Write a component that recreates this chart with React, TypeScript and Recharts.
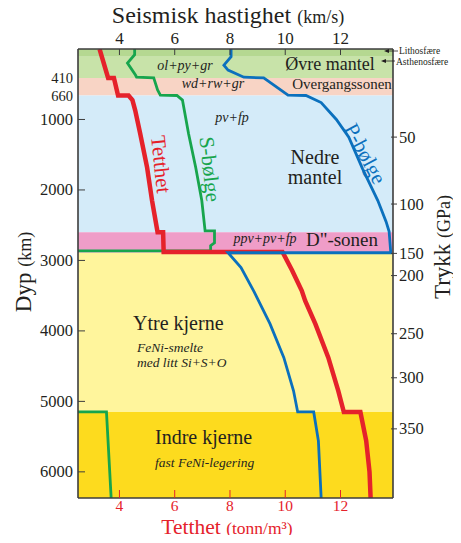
import { ComposedChart, Line, XAxis, YAxis, ReferenceArea } from "recharts";

const W = 461;
const H = 543;
const FONT = '"Liberation Serif", "DejaVu Serif", serif';
const INK = "#231f20";
const AXIS = "#3d3d3d";
const RED = "#e5222b";
const GREEN = "#17a54d";
const BLUE = "#0b70bd";

// dybde (km) og tetthet (tonn/m3)
const tetthetDyp = [0, 410, 410, 660, 660, 725, 870, 1200, 1680, 2150, 2600, 2600, 2880, 2880, 3144, 3430, 3570, 3900, 4380, 4850, 5150, 5150, 5560, 6000, 6371];
const tetthet = [3.28, 3.59, 3.8, 3.95, 4.33, 4.47, 4.57, 4.75, 5.0, 5.18, 5.38, 5.58, 5.6, 9.9, 10.25, 10.6, 10.72, 11.09, 11.56, 11.92, 12.12, 12.72, 12.93, 13.05, 13.09];

// S-bølge (km/s)
const sDyp = [0, 80, 200, 370, 400, 410, 580, 655, 660, 725, 1200, 1680, 2150, 2580, 2580, 2750, 2790, 2865, 2865, 5150, 5150, 6371];
const sFart = [4.55, 4.55, 4.29, 4.58, 4.62, 5.24, 5.38, 5.48, 6.08, 6.28, 6.5, 6.76, 6.98, 7.1, 7.44, 7.44, 7.3, 7.3, 0, 0, 3.53, 3.7];

// P-bølge (km/s)
const pDyp = [0, 110, 230, 300, 400, 410, 655, 660, 760, 1000, 1250, 1700, 2150, 2450, 2590, 2891, 2891, 3100, 3450, 3900, 4380, 4850, 5150, 5150, 5560, 6371];
const pFart = [8.04, 8.04, 7.78, 7.93, 8.5, 9.22, 10.1, 10.75, 11.3, 11.85, 12.3, 12.8, 13.35, 13.65, 13.76, 13.82, 7.93, 8.4, 8.88, 9.45, 9.95, 10.3, 10.45, 11.03, 11.2, 11.3];

// soner
const soneFra = [0, 110, 410, 660, 2600, 2891, 5150];
const soneTil = [110, 410, 660, 2600, 2891, 5150, 6371];
const soneFarge = ["#b5d891", "#c8e3a9", "#f8d4c5", "#d4ebf9", "#ef9dc8", "#fff59c", "#fddb1e"];

const fartTicks = [4, 6, 8, 10, 12];
const dypTicks = [410, 660, 1000, 2000, 3000, 4000, 5000, 6000];
const trykkDyp = [1250, 2200, 2900, 3215, 4040, 4665, 5390];
const trykkTekst = ["50", "100", "150", "200", "250", "300", "350"];

const rows = (d: number[], v: number[]) => d.map((dd, i) => ({ d: dd, v: v[i] }));
const tetthetData = rows(tetthetDyp, tetthet);
const sData = rows(sDyp, sFart);
const pData = rows(pDyp, pFart);

const TopTick = ({ x, y, payload }: any) => (
  <g>
    <text x={x} y={y} textAnchor="middle" fontSize={17} fill={INK} fontFamily={FONT}>
      {payload.value}
    </text>
    <line x1={x} x2={x} y1={y + 5} y2={y + 11} stroke={AXIS} strokeWidth={1} />
  </g>
);

const BottomTick = ({ x, y, payload }: any) => (
  <g>
    <text x={x} y={y + 13} textAnchor="middle" fontSize={15.5} fill={RED} fontFamily={FONT}>
      {payload.value}
    </text>
    <line x1={x} x2={x} y1={y} y2={y - 8} stroke={RED} strokeWidth={1} />
  </g>
);

const LeftTick = ({ x, y, payload }: any) => {
  const v = payload.value;
  const small = v < 1000;
  return (
    <g>
      <text x={x} y={y + 5.5} textAnchor="end" fontSize={small ? 14.5 : 16.5} fill={INK} fontFamily={FONT}>
        {v}
      </text>
      {!small && <line x1={x + 5} x2={x + 12} y1={y} y2={y} stroke={AXIS} strokeWidth={1} />}
    </g>
  );
};

const RightTick = ({ x, y, payload, index }: any) => (
  <g>
    <text x={x} y={y + 5.5} textAnchor="start" fontSize={16.5} fill={INK} fontFamily={FONT}>
      {trykkTekst[index] ?? payload.value}
    </text>
    <line x1={x - 8} x2={x - 2} y1={y} y2={y} stroke={AXIS} strokeWidth={1} />
  </g>
);

const T = ({ x, y, size = 14, italic = false, color = INK, rot = 0, anchor = "middle", children }: any) => (
  <text
    x={x}
    y={y}
    fontSize={size}
    fontStyle={italic ? "italic" : "normal"}
    fill={color}
    fontFamily={FONT}
    textAnchor={anchor}
    transform={rot ? `rotate(${rot} ${x} ${y})` : undefined}
  >
    {children}
  </text>
);

export default function App() {
  return (
    <div style={{ position: "relative", width: W, height: H, margin: -8, background: "#fff" }}>
      <ComposedChart
        width={W}
        height={H}
        layout="vertical"
        margin={{ top: 0, right: 0, bottom: 0, left: 0 }}
      >
        {soneFra.map((f, i) => (
          <ReferenceArea
            key={i}
            xAxisId="fart"
            yAxisId="dyp"
            y1={f}
            y2={soneTil[i]}
            fill={soneFarge[i]}
            fillOpacity={1}
            stroke="none"
            ifOverflow="visible"
          />
        ))}
        <Line
          data={sData}
          dataKey="v"
          xAxisId="fart"
          yAxisId="dyp"
          stroke={GREEN}
          strokeWidth={2.8}
          dot={false}
          activeDot={false}
          strokeLinejoin="miter"
          isAnimationActive={false}
        />
        <Line
          data={tetthetData}
          dataKey="v"
          xAxisId="rho"
          yAxisId="dyp"
          stroke={RED}
          strokeWidth={4.5}
          dot={false}
          activeDot={false}
          strokeLinejoin="miter"
          isAnimationActive={false}
        />
        <Line
          data={pData}
          dataKey="v"
          xAxisId="fart"
          yAxisId="dyp"
          stroke={BLUE}
          strokeWidth={2.8}
          dot={false}
          activeDot={false}
          strokeLinejoin="miter"
          isAnimationActive={false}
        />
        <XAxis
          xAxisId="fart"
          orientation="top"
          type="number"
          domain={[2.5, 13.9]}
          allowDataOverflow
          ticks={fartTicks}
          interval={0}
          height={49}
          tickSize={0}
          tickMargin={5}
          tick={TopTick}
          axisLine={{ stroke: AXIS, strokeWidth: 1.6 }}
        />
        <XAxis
          xAxisId="rho"
          orientation="bottom"
          type="number"
          domain={[2.5, 13.9]}
          allowDataOverflow
          ticks={fartTicks}
          interval={0}
          height={45}
          tickSize={0}
          tickMargin={0}
          tick={BottomTick}
          axisLine={{ stroke: AXIS, strokeWidth: 1.6 }}
        />
        <YAxis
          yAxisId="dyp"
          orientation="left"
          type="number"
          dataKey="d"
          domain={[0, 6371]}
          allowDataOverflow
          ticks={dypTicks}
          interval={0}
          width={78}
          tickSize={0}
          tickMargin={5}
          tick={LeftTick}
          axisLine={{ stroke: AXIS, strokeWidth: 1.6 }}
        />
        <YAxis
          yAxisId="trykk"
          orientation="right"
          type="number"
          dataKey="d"
          domain={[0, 6371]}
          allowDataOverflow
          ticks={trykkDyp}
          interval={0}
          width={68}
          tickSize={0}
          tickMargin={6}
          tick={RightTick}
          axisLine={{ stroke: AXIS, strokeWidth: 1.6 }}
        />
      </ComposedChart>

      <svg
        width={W}
        height={H}
        style={{ position: "absolute", left: 0, top: 0, pointerEvents: "none" }}
      >
        {/* aksetitler */}
        <text x={228} y={23} textAnchor="middle" fill={INK} fontFamily={FONT}>
          <tspan fontSize={24}>Seismisk hastighet </tspan>
          <tspan fontSize={18}>(km/s)</tspan>
        </text>
        <text x={227} y={534} textAnchor="middle" fill={RED} fontFamily={FONT}>
          <tspan fontSize={21.5}>Tetthet </tspan>
          <tspan fontSize={17.5}>(tonn/m³)</tspan>
        </text>
        <text x={31} y={272} textAnchor="middle" fill={INK} fontFamily={FONT} transform="rotate(-90 31 272)">
          <tspan fontSize={23}>Dyp </tspan>
          <tspan fontSize={18}>(km)</tspan>
        </text>
        <text x={450} y={247} textAnchor="middle" fill={INK} fontFamily={FONT} transform="rotate(-90 450 247)">
          <tspan fontSize={23}>Trykk </tspan>
          <tspan fontSize={18}>(GPa)</tspan>
        </text>

        {/* litosfære / astenosfære */}
        <line x1={386} x2={398} y1={51} y2={51} stroke={INK} strokeWidth={0.8} />
        <polygon points="384,51 389,49 389,53" fill={INK} />
        <T x={399} y={54} size={9.5} anchor="start">Lithosfære</T>
        <line x1={383} x2={395} y1={61} y2={61} stroke={INK} strokeWidth={0.8} />
        <polygon points="381,61 386,59 386,63" fill={INK} />
        <T x={396} y={64.5} size={9.5} anchor="start">Asthenosfære</T>

        {/* soner */}
        <T x={330} y={70} size={18}>Øvre mantel</T>
        <T x={185} y={70} size={14} italic>ol+py+gr</T>
        <T x={213} y={88} size={14} italic>wd+rw+gr</T>
        <T x={342} y={89} size={15}>Overgangssonen</T>
        <T x={232} y={122} size={14} italic>pv+fp</T>
        <T x={315} y={164} size={20}>Nedre</T>
        <T x={315} y={184} size={20}>mantel</T>
        <T x={265} y={243} size={14} italic>ppv+pv+fp</T>
        <T x={342} y={246} size={19}>D"-sonen</T>
        <T x={133} y={330} size={20} anchor="start">Ytre kjerne</T>
        <T x={137} y={352} size={13.5} italic anchor="start">FeNi-smelte</T>
        <T x={137} y={367} size={13.5} italic anchor="start">med litt Si+S+O</T>
        <T x={155} y={444} size={20} anchor="start">Indre kjerne</T>
        <T x={155} y={467} size={13.5} italic anchor="start">fast FeNi-legering</T>

        {/* kurvenavn */}
        <T x={154} y={165} size={21} color={RED} rot={84}>Tetthet</T>
        <T x={203} y={170} size={21} color={GREEN} rot={84}>S-bølge</T>
        <T x={359} y={157} size={21} color={BLUE} rot={62}>P-bølge</T>
      </svg>
    </div>
  );
}
